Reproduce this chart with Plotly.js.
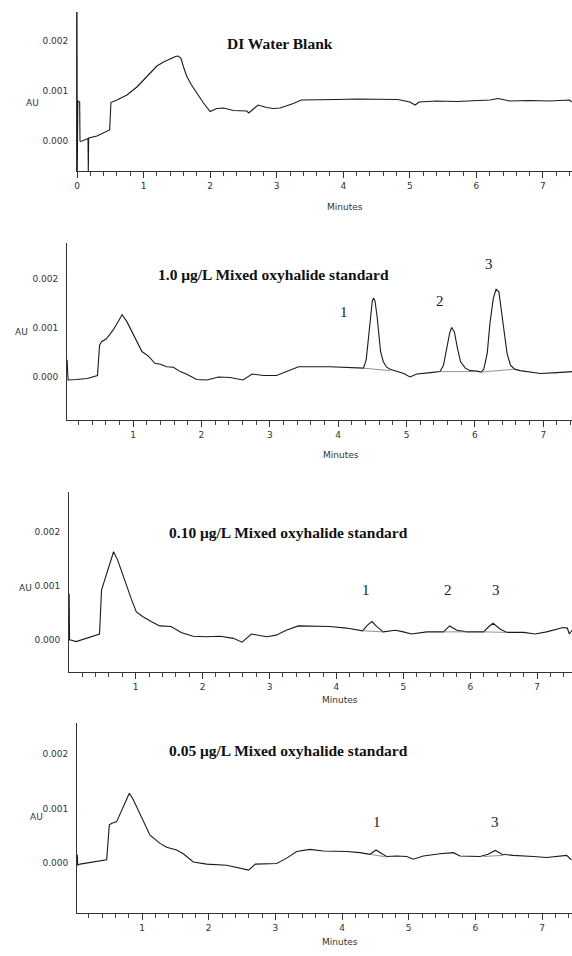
<!DOCTYPE html>
<html><head><meta charset="utf-8">
<script src="https://cdn.plot.ly/plotly-3.0.1.min.js"></script>
<style>body{margin:0;background:#fff}#chart{width:572px;height:956px}</style>
</head><body><div id="chart"></div>
<script>
// ---------- Panel 1: DI Water Blank ----------
const p1_title = "DI Water Blank";
const p1_t = [0.0,0.004,0.008,0.012,0.04,0.045,0.06,0.165,0.17,0.175,0.3,0.45,0.49,0.51,0.6,0.75,0.9,1.0,1.1,1.2,1.3,1.4,1.48,1.52,1.56,1.6,1.65,1.72,1.8,1.9,2.0,2.1,2.2,2.35,2.55,2.58,2.65,2.72,2.85,2.95,3.05,3.15,3.25,3.37,3.6,3.9,4.2,4.5,4.82,5.0,5.08,5.14,5.4,5.7,6.0,6.2,6.33,6.5,6.8,7.1,7.4,7.43];
const p1_v = [0.0026,-0.0006,0.00082,0.0008,0.00078,0.0,-0.00001,0.00005,-0.0006,0.00006,0.0001,0.0002,0.00022,0.00077,0.00082,0.00092,0.00108,0.00122,0.00136,0.0015,0.00158,0.00165,0.00169,0.0017,0.00166,0.00148,0.00129,0.00112,0.00095,0.00076,0.00059,0.00065,0.00066,0.00061,0.0006,0.00056,0.00064,0.00072,0.00067,0.00065,0.00066,0.0007,0.00075,0.00082,0.00082,0.00083,0.00084,0.00083,0.00083,0.00078,0.00072,0.00078,0.0008,0.00079,0.00081,0.00082,0.00085,0.0008,0.00081,0.0008,0.00082,0.00078];
const p1_bl_t = [], p1_bl_v = [];
const p1_lab_t = [], p1_lab_v = [], p1_lab = [];

// ---------- Panel 2: 1.0 ug/L ----------
const p2_title = "1.0 μg/L Mixed oxyhalide standard";
const p2_t = [0.035,0.05,0.17,0.33,0.48,0.51,0.54,0.61,0.71,0.84,0.91,1.0,1.13,1.22,1.32,1.40,1.49,1.59,1.69,1.78,1.93,2.08,2.25,2.42,2.61,2.74,2.91,3.1,3.25,3.42,3.88,4.2,4.37,4.41,4.44,4.48,4.50,4.52,4.54,4.57,4.60,4.62,4.66,4.71,4.76,4.85,4.96,5.05,5.15,5.35,5.49,5.54,5.59,5.63,5.66,5.70,5.74,5.79,5.86,5.93,6.03,6.09,6.13,6.18,6.22,6.27,6.31,6.35,6.38,6.42,6.47,6.52,6.58,6.66,6.96,7.2,7.42];
const p2_v = [0.00035,-0.00006,-0.00005,-0.00003,0.00003,0.00065,0.00072,0.00078,0.00096,0.00127,0.00113,0.00089,0.00052,0.00043,0.00028,0.00026,0.00021,0.0002,0.00011,0.00006,-0.00005,-0.00006,0.0,-0.00001,-0.00006,0.00006,0.00003,0.00003,0.00011,0.00021,0.00021,0.0002,0.00018,0.00035,0.00076,0.0013,0.00156,0.00161,0.00154,0.00123,0.00082,0.00052,0.00031,0.0002,0.00016,0.00012,0.00007,0.0,0.00006,0.00009,0.00011,0.00024,0.00062,0.00089,0.00101,0.00092,0.00062,0.00031,0.00018,0.00013,0.00012,0.0001,0.00016,0.00048,0.0011,0.00161,0.00179,0.00174,0.00143,0.00096,0.00048,0.00024,0.00016,0.00013,0.00007,0.00009,0.00011];
const p2_bl_t = [4.37,4.76,null,5.49,6.03,null,6.09,6.58];
const p2_bl_v = [0.00018,0.00013,null,0.00011,0.00011,null,0.0001,0.00016];
const p2_lab_t = [4.09,5.49,6.2];
const p2_lab_v = [0.00133,0.00155,0.00231];
const p2_lab = ["1","2","3"];

// ---------- Panel 3: 0.10 ug/L ----------
const p3_title = "0.10 μg/L Mixed oxyhalide standard";
const p3_t = [0.0,0.006,0.012,0.03,0.11,0.26,0.41,0.46,0.49,0.54,0.61,0.67,0.73,0.83,0.94,1.01,1.11,1.23,1.36,1.53,1.68,1.86,2.06,2.26,2.46,2.59,2.73,2.96,3.1,3.25,3.43,3.9,4.15,4.39,4.46,4.53,4.6,4.7,4.88,5.0,5.12,5.35,5.6,5.69,5.8,5.95,6.2,6.27,6.34,6.45,6.55,6.8,6.97,7.14,7.39,7.45,7.48,7.52];
const p3_v = [0.0,0.00086,0.0,0.0,-0.00003,0.00003,0.00009,0.00011,0.00092,0.00111,0.00142,0.00163,0.00148,0.00111,0.00074,0.00052,0.00043,0.00034,0.00026,0.00025,0.00014,0.00007,0.00006,0.00007,0.00003,-0.00004,0.00011,0.00006,0.00009,0.00018,0.00026,0.00025,0.00022,0.00017,0.00027,0.00034,0.00025,0.00015,0.00018,0.00015,0.00011,0.00015,0.00015,0.00026,0.00018,0.00015,0.00015,0.00024,0.00031,0.0002,0.00014,0.00014,0.00011,0.00015,0.00023,0.00022,0.00011,0.00018];
const p3_bl_t = [4.39,4.7,null,5.6,5.95,null,6.2,6.55];
const p3_bl_v = [0.00017,0.00015,null,0.00015,0.00015,null,0.00015,0.00014];
const p3_lab_t = [4.44,5.67,6.38];
const p3_lab_v = [0.00093,0.00093,0.00093];
const p3_lab = ["1","2","3"];

// ---------- Panel 4: 0.05 ug/L ----------
const p4_title = "0.05 μg/L Mixed oxyhalide standard";
const p4_t = [0.03,0.035,0.07,0.27,0.47,0.51,0.55,0.62,0.7,0.81,0.87,0.97,1.12,1.27,1.37,1.52,1.62,1.77,1.97,2.27,2.47,2.6,2.7,2.9,3.02,3.17,3.32,3.52,3.72,4.07,4.27,4.42,4.51,4.6,4.67,4.82,4.97,5.07,5.22,5.47,5.67,5.77,6.07,6.19,6.3,6.4,6.57,6.87,7.07,7.37,7.44];
const p4_v = [0.00015,-0.00004,-0.00002,0.00002,0.00006,0.0007,0.00073,0.00076,0.00097,0.00128,0.00116,0.00091,0.00051,0.00036,0.00029,0.00024,0.00017,0.00002,-0.00002,-0.00004,-0.00009,-0.00013,-0.00002,-0.00002,-0.00001,0.00009,0.00021,0.00025,0.00022,0.00021,0.00019,0.00016,0.00024,0.00017,0.00012,0.00013,0.00012,0.00007,0.00013,0.00017,0.00019,0.00013,0.00012,0.00016,0.00023,0.00016,0.00014,0.00012,0.0001,0.00014,0.00006];
const p4_bl_t = [4.42,4.67,null,6.12,6.42];
const p4_bl_v = [0.00016,0.00011,null,0.00012,0.00014];
const p4_lab_t = [4.52,6.3];
const p4_lab_v = [0.00076,0.00076];
const p4_lab = ["1","3"];

// ---------- layout geometry (pixels) ----------
const W = 572, H = 956;
const panels = [
  {t:p1_t,v:p1_v,blt:p1_bl_t,blv:p1_bl_v,lt:p1_lab_t,lv:p1_lab_v,lab:p1_lab,title:p1_title,
   x0:77,top:12,bot:171,xr:[0,7.436],yr:[-0.0006,0.00258],titleXY:[280,33],auXY:[24,96],minXY:[345,200]},
  {t:p2_t,v:p2_v,blt:p2_bl_t,blv:p2_bl_v,lt:p2_lab_t,lv:p2_lab_v,lab:p2_lab,title:p2_title,
   x0:67,top:243,bot:420,xr:[0.034,7.42],yr:[-0.000878,0.002735],titleXY:[273,264],auXY:[13,332],minXY:[341,455]},
  {t:p3_t,v:p3_v,blt:p3_bl_t,blv:p3_bl_v,lt:p3_lab_t,lv:p3_lab_v,lab:p3_lab,title:p3_title,
   x0:69,top:492,bot:672,xr:[0.004,7.52],yr:[-0.000591,0.002733],titleXY:[288,532],auXY:[17,588],minXY:[340,707]},
  {t:p4_t,v:p4_v,blt:p4_bl_t,blv:p4_bl_v,lt:p4_lab_t,lv:p4_lab_v,lab:p4_lab,title:p4_title,
   x0:77,top:723,bot:913,xr:[0.025,7.45],yr:[-0.000917,0.002569],titleXY:[288,761],auXY:[28,824],minXY:[340,949]}
];

const data = [], annotations = [];
const layout = {width:W,height:H,margin:{l:0,r:0,t:0,b:0},showlegend:false,
  paper_bgcolor:'#fff',plot_bgcolor:'#fff',annotations:annotations};
const tickFont = {family:'DejaVu Sans, Arial, sans-serif',size:9,color:'#333'};
const titleFont = {family:'Liberation Serif, Times New Roman, serif',size:15.5,color:'#111'};
const numFont = {family:'Liberation Serif, Times New Roman, serif',size:15,color:'#222'};

panels.forEach((p,i)=>{
  const n = i+1, xa = 'x'+(n===1?'':n), ya = 'y'+(n===1?'':n);
  const xk = 'xaxis'+(n===1?'':n), yk = 'yaxis'+(n===1?'':n);
  layout[xk] = {domain:[p.x0/W,1],anchor:ya,range:p.xr,showgrid:false,zeroline:false,
    showline:true,linecolor:'#333',linewidth:1,ticks:'outside',ticklen:6,tickcolor:'#333',tickwidth:1,
    tickmode:'linear',tick0:0,dtick:1,tickfont:tickFont,
    minor:{ticks:'outside',ticklen:4,tickcolor:'#444',tickwidth:1,tickmode:'linear',tick0:0,dtick:0.2,showgrid:false}};
  layout[yk] = {domain:[1-p.bot/H,1-p.top/H],anchor:xa,range:p.yr,showgrid:false,zeroline:false,
    showline:true,linecolor:'#333',linewidth:1,ticks:'',tickmode:'linear',tick0:0,dtick:0.001,
    tickformat:'.3f',tickfont:tickFont,ticklabelstandoff:6};
  data.push({type:'scatter',mode:'lines',x:p.t,y:p.v,xaxis:xa,yaxis:ya,
    line:{color:'#1a1a1a',width:1.1},hoverinfo:'skip'});
  if (p.blt.length) data.push({type:'scatter',mode:'lines',x:p.blt,y:p.blv,xaxis:xa,yaxis:ya,
    line:{color:'#777',width:0.8},connectgaps:false,hoverinfo:'skip'});
  p.lt.forEach((tt,k)=>annotations.push({xref:xa,yref:ya,x:tt,y:p.lv[k],text:p.lab[k],
    showarrow:false,font:numFont}));
  annotations.push({xref:'paper',yref:'paper',x:p.titleXY[0]/W,y:1-p.titleXY[1]/H,
    text:'<b>'+p.title+'</b>',showarrow:false,font:titleFont});
  annotations.push({xref:'paper',yref:'paper',x:p.auXY[0]/W,y:1-p.auXY[1]/H,text:'AU',
    showarrow:false,font:tickFont});
  annotations.push({xref:'paper',yref:'paper',x:p.minXY[0]/W,y:1-p.minXY[1]/H,text:'Minutes',
    showarrow:false,font:tickFont});
});

Plotly.newPlot('chart',data,layout,{staticPlot:true});
</script></body></html>
